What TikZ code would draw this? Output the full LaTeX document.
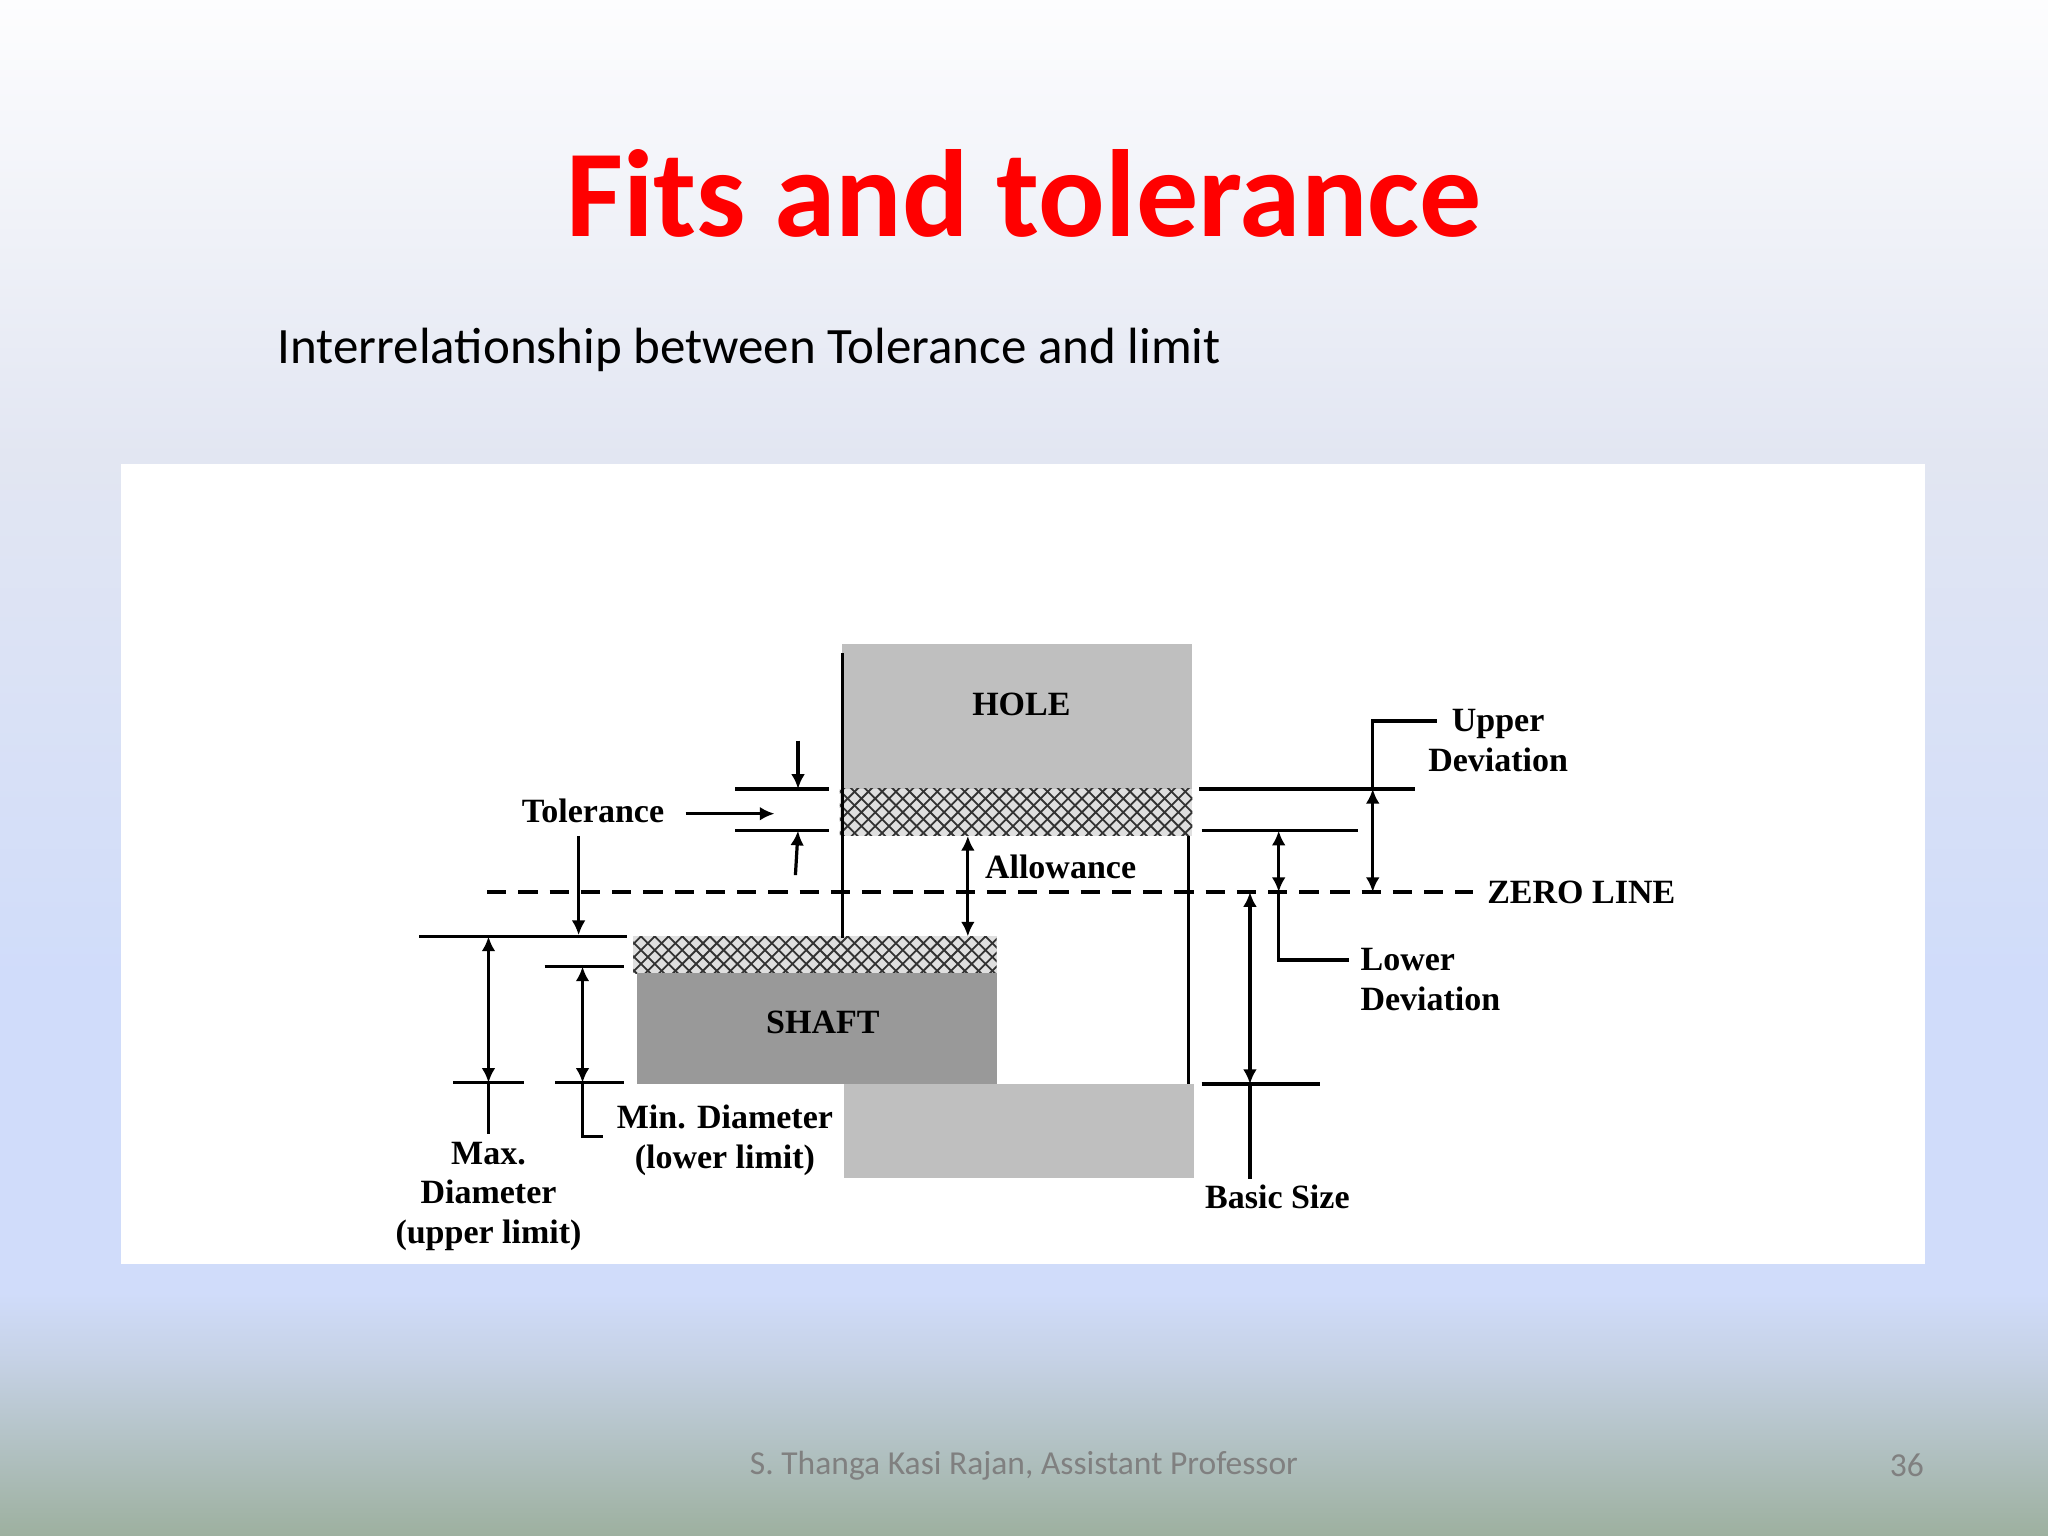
\documentclass[tikz,border=0pt]{standalone}
\usepackage{fontspec}
\setmainfont{Liberation Serif}
\newfontfamily\calfont{Carlito}
\usetikzlibrary{patterns,arrows.meta}
\definecolor{bgA}{HTML}{FDFDFE}
\definecolor{bgB}{HTML}{E2E6F2}
\definecolor{bgC}{HTML}{D0DCFA}
\definecolor{bgD}{HTML}{C6D2E6}
\definecolor{bgE}{HTML}{9DB09F}
\begin{document}
\begin{tikzpicture}[x=0.01cm,y=-0.01cm,
  lbl/.style={font=\fontsize{7.4}{8.6}\selectfont\bfseries,inner sep=0pt,align=center},
  ln/.style={line width=0.7pt},
  dim/.style={line width=0.7pt,{Latex[length=3.2pt,width=3pt]}-{Latex[length=3.2pt,width=3pt]}},
  one/.style={line width=0.7pt,-{Latex[length=3.2pt,width=3pt]}},
  hatch/.style={pattern=crosshatch,pattern color=black!80}]
\useasboundingbox (0,0) rectangle (1568,1176);
\shade[top color=bgA,bottom color=bgB] (0,0) rectangle (1568,350);
\shade[top color=bgB,bottom color=bgC] (0,350) rectangle (1568,750);
\fill[bgC] (0,750) rectangle (1568,990);
\shade[top color=bgC,bottom color=bgD] (0,990) rectangle (1568,1040);
\shade[top color=bgD,bottom color=bgE] (0,1040) rectangle (1568,1176);
\node[font=\calfont\fontsize{27}{30}\selectfont\bfseries,text=red] (title) at (784,148) {Fits and tolerance};
\node[font=\calfont\fontsize{11.1}{13}\selectfont,anchor=west,inner sep=0pt] (sub) at (212,268) {Interrelationship between Tolerance and limit};
\fill[white] (93,355) rectangle (1474,968);
\node[font=\calfont\fontsize{7.3}{9}\selectfont,text=gray] (foot) at (784,1122) {S. Thanga Kasi Rajan, Assistant Professor};
\node[font=\calfont\fontsize{7.3}{9}\selectfont,text=gray] (num) at (1460,1122) {36};
% shapes
\fill[gray!50] (645,493) rectangle (913,604);
\fill[gray!25] (643,604) rectangle (913,640); \fill[hatch] (643,604) rectangle (913,640);
\fill[gray!25] (485,717) rectangle (763,745); \fill[hatch] (485,717) rectangle (763,745);
\fill[gray!80!white] (488,745) rectangle (763,830);
\fill[gray!50] (646,830) rectangle (914,902);
\node[lbl] (hole) at (782,539) {HOLE};
\node[lbl] (shaft) at (630,783) {SHAFT};
\draw[ln] (645,500) -- (645,718);
\draw[ln] (910,640) -- (910,830);
\draw[line width=1pt,dash pattern=on 4.2pt off 2.6pt] (373,683) -- (1128,683);
\node[lbl,anchor=west] (zl) at (1138,683) {ZERO LINE};
% upper deviation
\draw[ln] (918,604) -- (1083,604);
\draw[ln] (920,636) -- (1040,636);
\draw[dim] (1051,604) -- (1051,683);
\draw[ln] (1051,604) -- (1051,552) -- (1100,552);
\node[lbl] (ud) at (1147,567) {Upper\\Deviation};
\draw[dim] (979,636) -- (979,683);
\draw[ln] (979,683) -- (979,735) -- (1033,735);
\node[lbl,anchor=west,align=left] (ld) at (1041,750) {Lower\\Deviation};
% basic size
\draw[ln] (920,830) -- (1011,830);
\draw[dim] (957,683) -- (957,830);
\draw[ln] (957,830) -- (957,903);
\node[lbl] (bs) at (978,916) {Basic Size};
% allowance
\draw[dim] (741,640) -- (741,717);
\node[lbl] (al) at (812,664) {Allowance};
% tolerance
\node[lbl] (tol) at (454,621) {Tolerance};
\draw[one] (525,623) -- (593,623);
\draw[ln] (563,604) -- (635,604);
\draw[ln] (563,636) -- (635,636);
\draw[one] (611,567) -- (611,604);
\draw[one] (609,670) -- (611,636);
\draw[one] (443,640) -- (443,716);
% max diameter
\draw[ln] (321,717) -- (480,717);
\draw[dim] (374,717) -- (374,829);
\draw[ln] (347,829) -- (401,829);
\draw[ln] (374,829) -- (374,868);
\node[lbl] (maxd) at (374,916) {Max.\\Diameter\\(upper limit)};
% min diameter
\draw[ln] (417,740) -- (478,740);
\draw[dim] (446,740) -- (446,829);
\draw[ln] (425,829) -- (478,829);
\draw[ln] (446,829) -- (446,870) -- (462,870);
\node[lbl] (mind) at (555,873) {Min. Diameter\\(lower limit)};
\end{tikzpicture}
\end{document}
